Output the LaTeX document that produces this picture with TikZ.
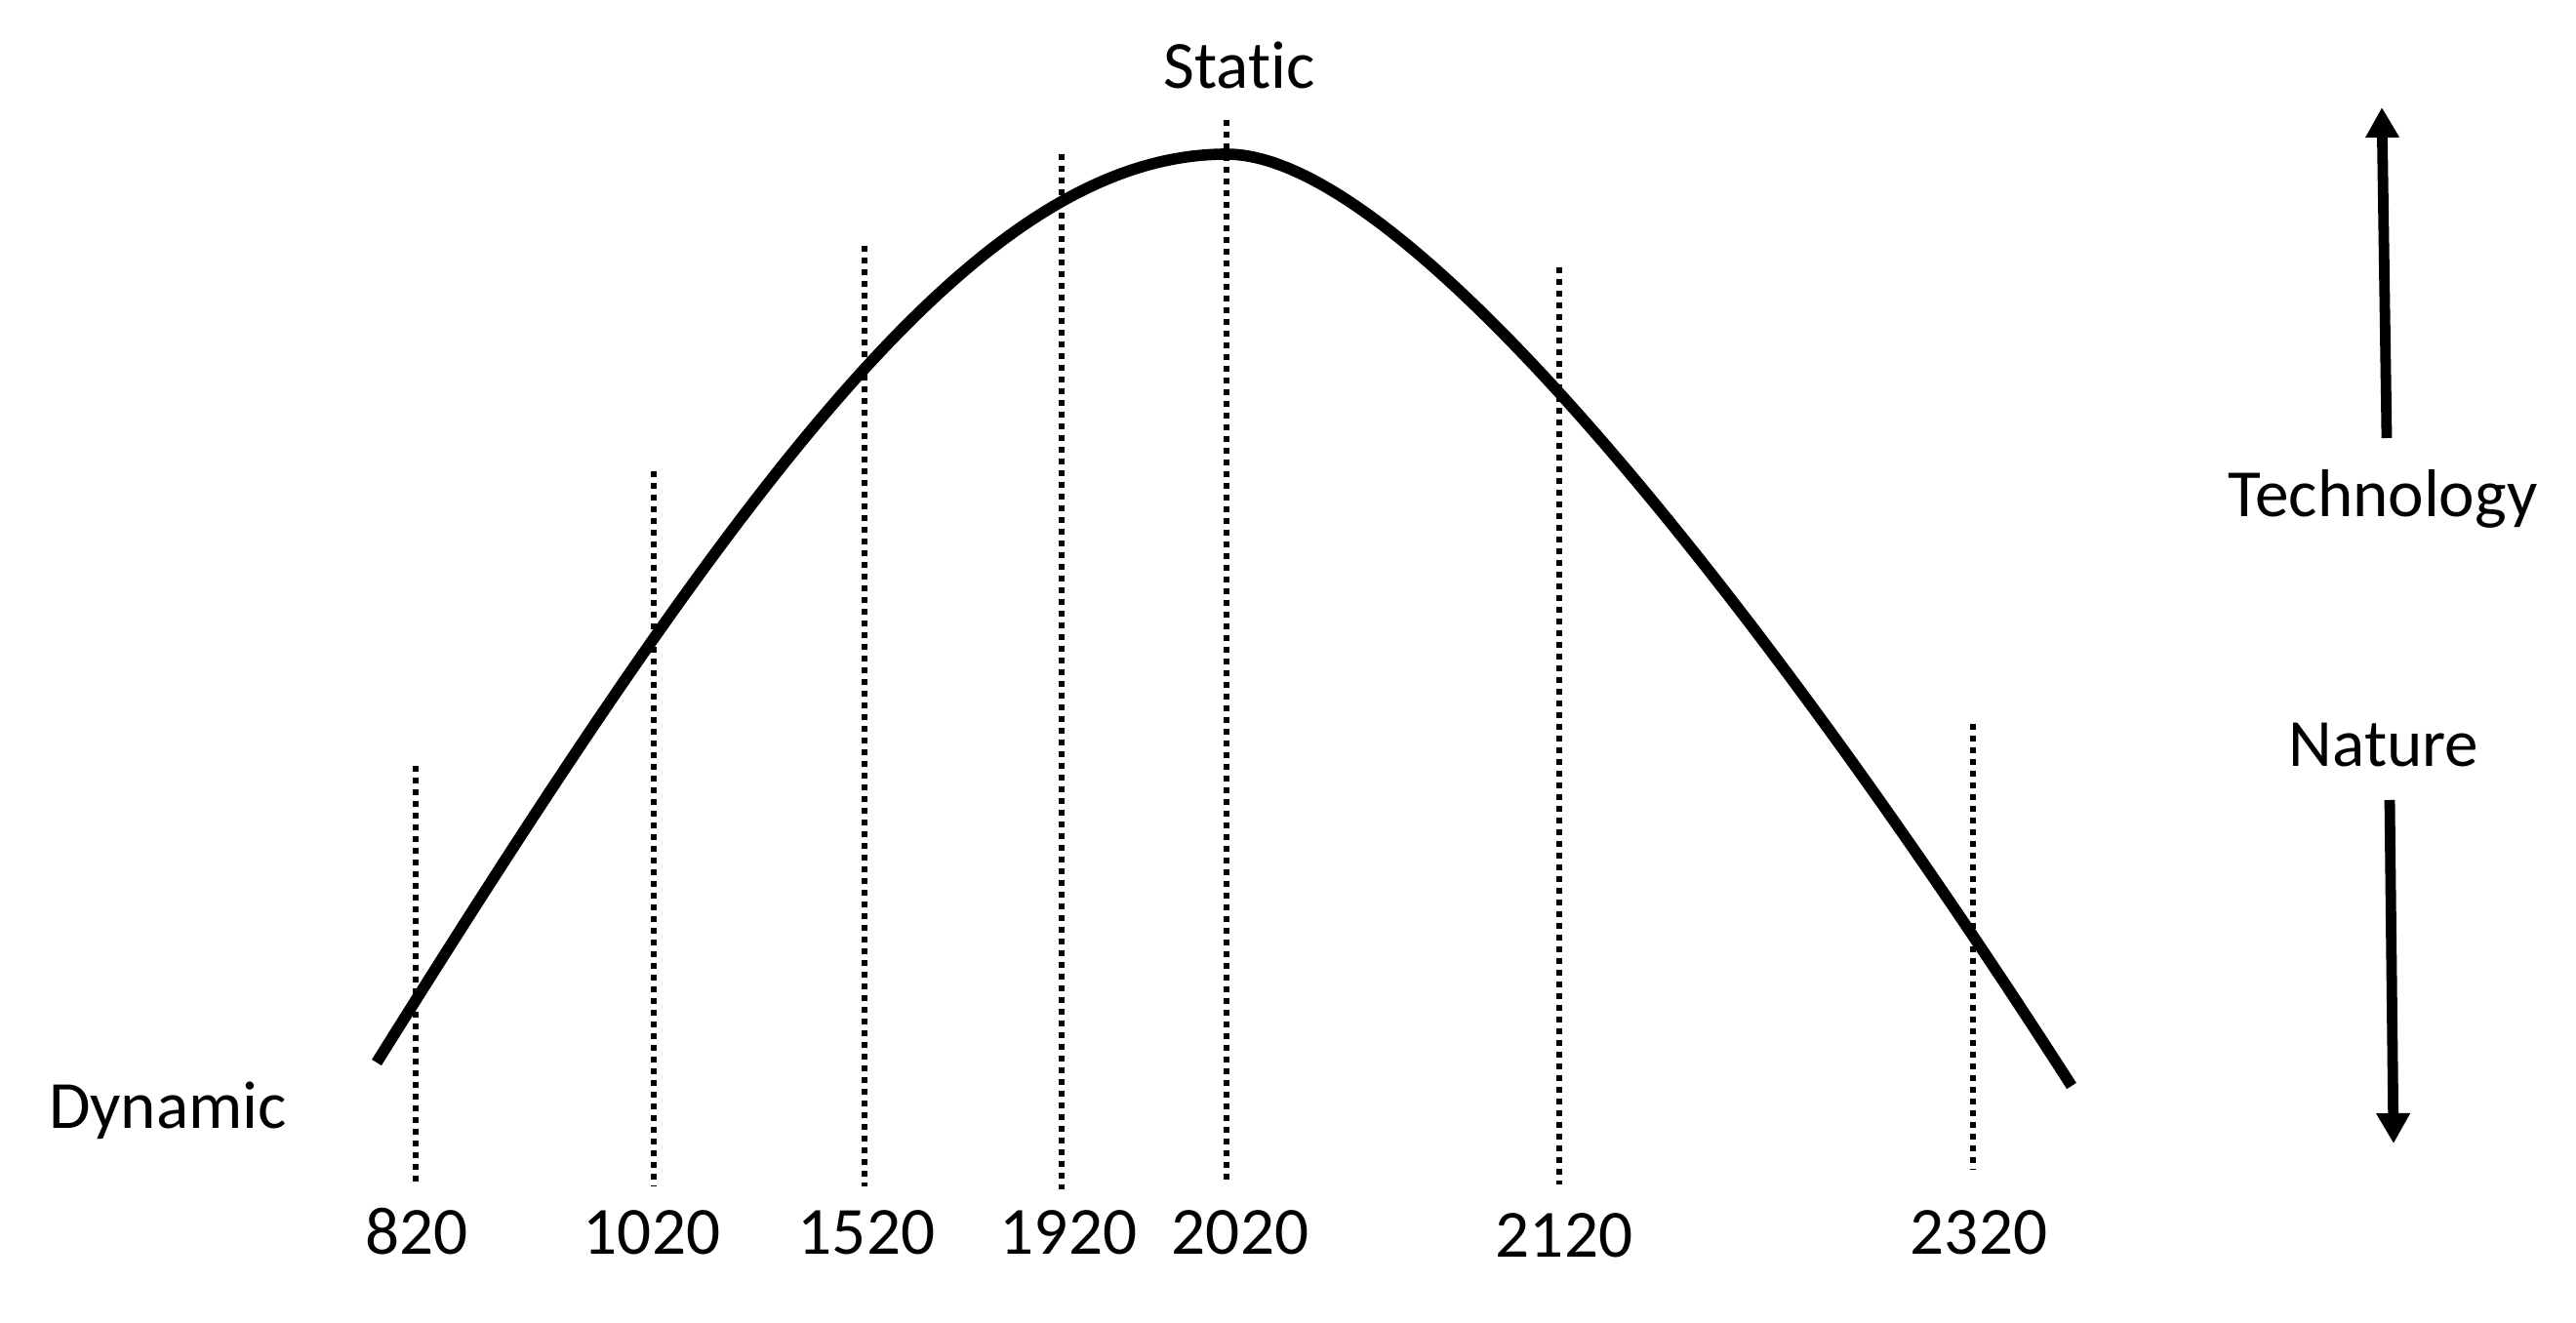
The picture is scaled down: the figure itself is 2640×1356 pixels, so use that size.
\documentclass[tikz,border=0pt]{standalone}
\usepackage{fontspec}
\setmainfont{Carlito}[Ligatures=NoCommon]
\usetikzlibrary{arrows.meta}
\begin{document}
\begin{tikzpicture}[x=0.25pt,y=-0.25pt,
  lbl/.style={inner sep=0pt,anchor=base,font=\fontsize{17.3}{20}\selectfont},
  guide/.style={line width=1.7pt,dash pattern=on 1.6pt off 1.4pt},
  curveline/.style={line width=2.9pt},
  bigarrow/.style={line width=2.7pt,-{Triangle[length=7.75pt,width=8.2pt]}}]
\useasboundingbox (0,0) rectangle (2640,1356);
% guide lines
\coordinate (t820) at (426,785);   \coordinate (b820) at (426,1212);
\coordinate (t1020) at (670,483);  \coordinate (b1020) at (670,1216);
\coordinate (t1520) at (886,252);  \coordinate (b1520) at (886,1216);
\coordinate (t1920) at (1088,158); \coordinate (b1920) at (1088,1219);
\coordinate (t2020) at (1257,123); \coordinate (b2020) at (1257,1209);
\coordinate (t2120) at (1598,274); \coordinate (b2120) at (1598,1214);
\coordinate (t2320) at (2022,742); \coordinate (b2320) at (2022,1199);
\foreach \n in {820,1020,1520,1920,2020,2120,2320}
  \draw[guide] (t\n) -- (b\n);
% curve
\coordinate (cstart) at (386,1089);
\coordinate (cpeak) at (1257,158);
\coordinate (cend) at (2123,1113);
\draw[curveline] (cstart) .. controls (766,481) and (1007,158) .. (cpeak)
  .. controls (1457,158) and (1853,692) .. (cend);
% year labels
\node[lbl] (l820)  at (427,1285)  {820};
\node[lbl] (l1020) at (668,1285)  {1020};
\node[lbl] (l1520) at (888,1285)  {1520};
\node[lbl] (l1920) at (1095,1285) {1920};
\node[lbl] (l2020) at (1271,1285) {2020};
\node[lbl] (l2120) at (1603,1288) {2120};
\node[lbl] (l2320) at (2028,1285) {2320};
% other labels
\node[lbl] (static)  at (1270,91)   {Static};
\node[lbl] (dynamic) at (172,1156)  {Dynamic};
\node[lbl] (tech)    at (2442,530)  {Technology};
\node[lbl] (nature)  at (2443,785)  {Nature};
% arrows
\coordinate (upS) at (2446,449);  \coordinate (upE) at (2441,110);
\coordinate (dnS) at (2449,820);  \coordinate (dnE) at (2453,1172);
\draw[bigarrow] (upS) -- (upE);
\draw[bigarrow] (dnS) -- (dnE);
\end{tikzpicture}
\end{document}
